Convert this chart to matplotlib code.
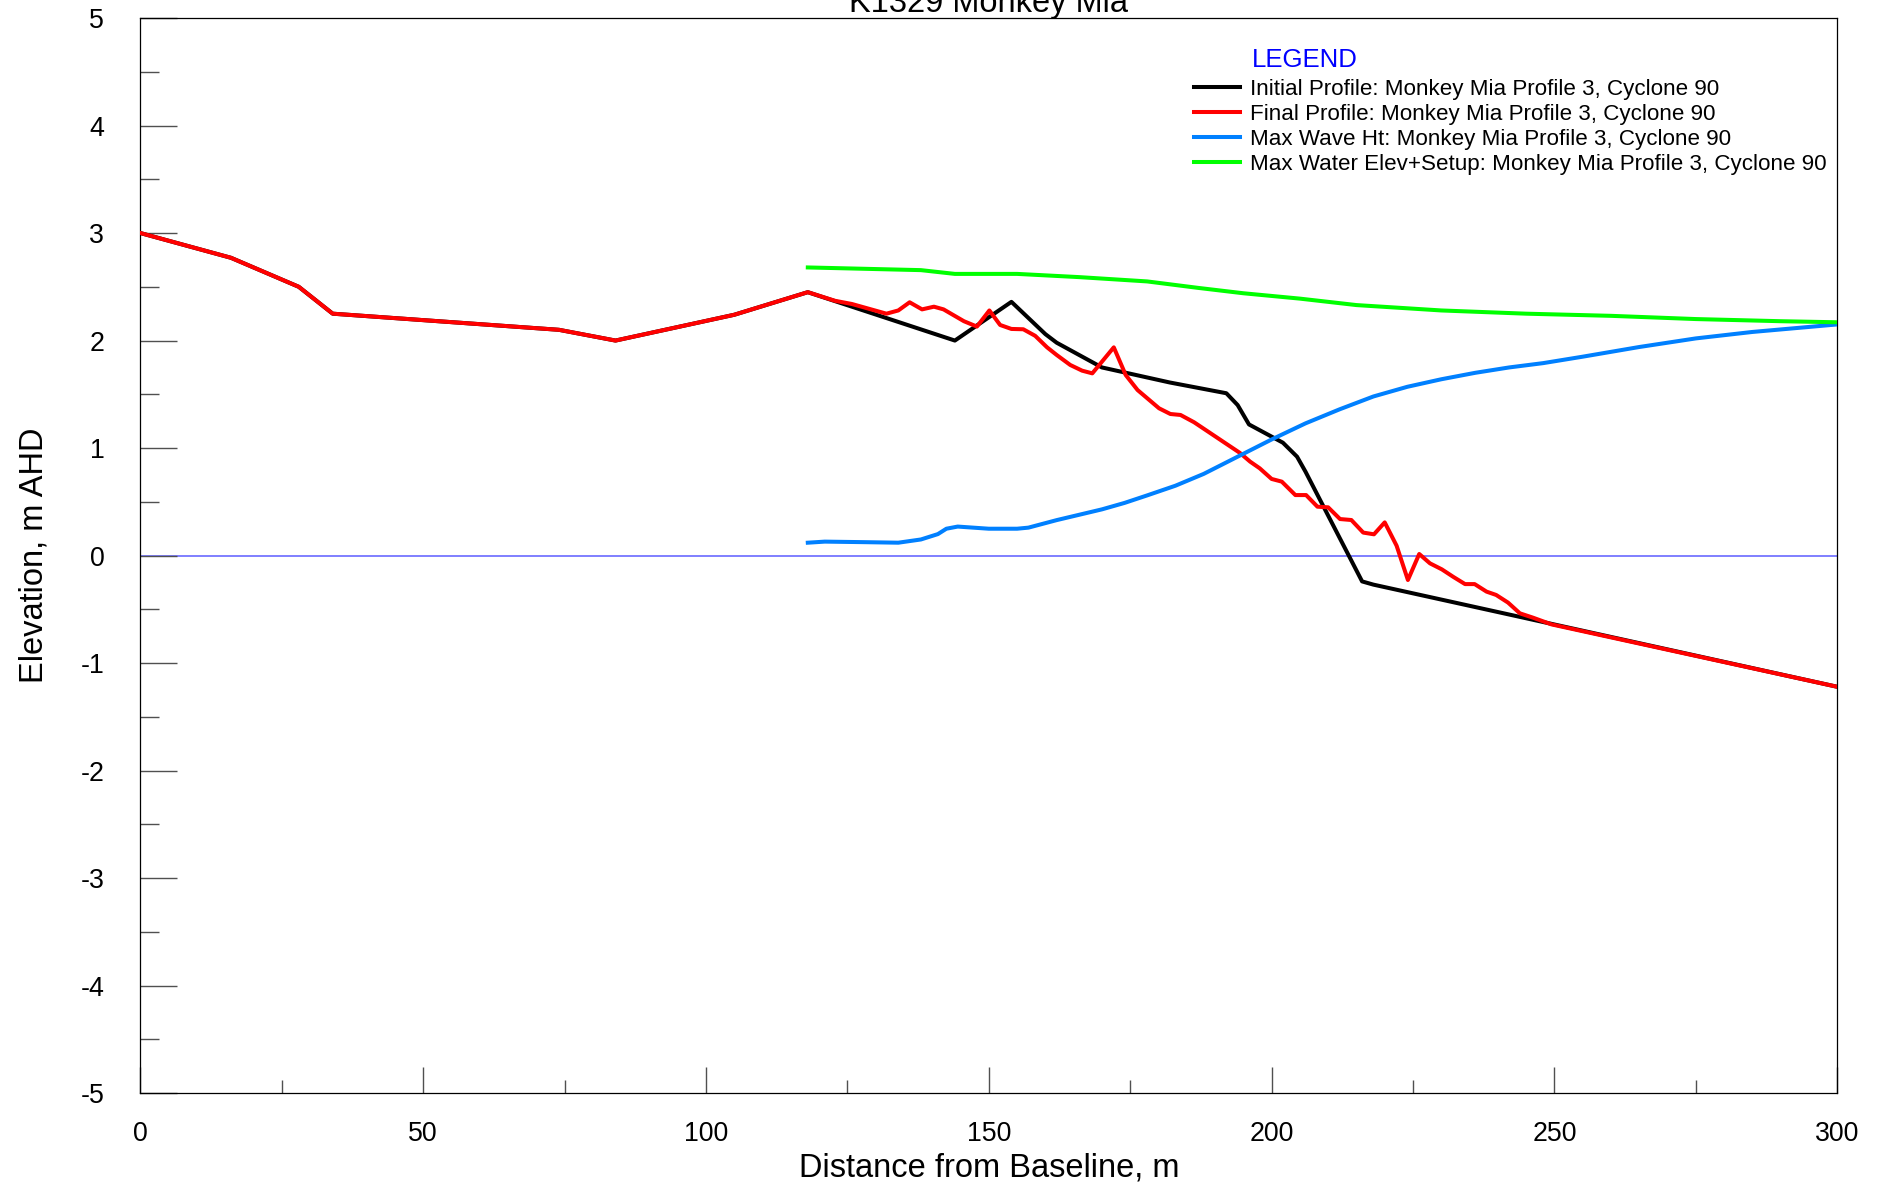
import matplotlib
matplotlib.use("Agg")
import matplotlib.pyplot as plt
from matplotlib.ticker import MultipleLocator

plt.rcParams['font.family'] = ['Liberation Sans', 'DejaVu Sans']
plt.rcParams['axes.unicode_minus'] = False

# Initial beach profile (distance from baseline, m ; elevation, m AHD)
initial_x = [0, 16, 28, 34, 74, 84, 105, 118, 144, 154, 160, 162, 170, 182,
             192, 194, 196, 202, 204.5, 206, 216, 218, 300]
initial_y = [3.0, 2.77, 2.5, 2.25, 2.1, 2.0, 2.24, 2.45, 2.0, 2.36, 2.06, 1.98,
             1.75, 1.61, 1.51, 1.40, 1.22, 1.05, 0.92, 0.78, -0.24, -0.27, -1.22]

# Final (post-storm) profile
final_x = [0, 16, 28, 34, 74, 84, 105, 118, 122.8, 125.8, 131.9, 134, 136,
           138.2, 140.3, 142, 145.6, 147.9, 150.1, 152, 154, 156.1, 158.2,
           160.3, 162, 164.4, 166.5, 168.3, 172.1, 174.2, 176.3, 180.1, 182.1,
           183.9, 186.3, 194.4, 196.2, 197.9, 200, 201.8, 204.2, 206.1, 208.1,
           210, 212.1, 214.1, 216.2, 218.1, 220, 222.1, 224.1, 226.1, 228,
           230.1, 232.1, 234.2, 235.9, 238, 239.7, 241.8, 243.9, 246.2, 249.5,
           300]
final_y = [3.0, 2.77, 2.5, 2.25, 2.1, 2.0, 2.24, 2.45, 2.37, 2.34, 2.25, 2.28,
           2.356, 2.29, 2.315, 2.29, 2.18, 2.13, 2.28, 2.145, 2.108, 2.105,
           2.044, 1.937, 1.866, 1.773, 1.72, 1.695, 1.937, 1.68, 1.54, 1.37,
           1.317, 1.308, 1.24, 0.955, 0.874, 0.812, 0.713, 0.688, 0.563, 0.563,
           0.455, 0.449, 0.34, 0.331, 0.214, 0.198, 0.309, 0.092, -0.227, 0.015,
           -0.072, -0.128, -0.197, -0.265, -0.265, -0.335, -0.366, -0.437,
           -0.537, -0.577, -0.64, -1.22]

# Maximum wave height along the profile
wave_x = [118, 121, 128, 134, 138, 141, 142.5, 144.5, 150, 155, 157, 162, 166,
          170, 174, 178, 183, 188, 194, 200, 206, 212, 218, 224, 230, 236, 242,
          248, 255, 265, 275, 285, 300]
wave_y = [0.12, 0.13, 0.125, 0.12, 0.15, 0.2, 0.25, 0.27, 0.25, 0.25, 0.26,
          0.33, 0.38, 0.43, 0.49, 0.56, 0.65, 0.76, 0.92, 1.08, 1.23, 1.36,
          1.48, 1.57, 1.64, 1.70, 1.75, 1.79, 1.85, 1.94, 2.02, 2.08, 2.15]

# Maximum water elevation including setup
water_x = [118, 130, 138, 144, 155, 166, 178, 187, 195, 205, 215, 230, 245,
           260, 275, 290, 300]
water_y = [2.68, 2.665, 2.655, 2.62, 2.62, 2.59, 2.55, 2.49, 2.44, 2.39, 2.33,
           2.28, 2.25, 2.23, 2.20, 2.18, 2.17]

datum_x = [0, 300]
datum_y = [0, 0]

labels = [
    "Initial Profile: Monkey Mia Profile 3, Cyclone 90",
    "Final Profile: Monkey Mia Profile 3, Cyclone 90",
    "Max Wave Ht: Monkey Mia Profile 3, Cyclone 90",
    "Max Water Elev+Setup: Monkey Mia Profile 3, Cyclone 90",
]

W, H = 1881, 1189
fig = plt.figure(figsize=(W / 100, H / 100), dpi=100)
left, right, top, bottom = 140.4, 1837.2, 18.0, 1093.2
ax = fig.add_axes([left / W, 1 - bottom / H, (right - left) / W, (bottom - top) / H])

lw = 2.9
ax.plot(datum_x, datum_y, color='#6a6aff', lw=1.2, zorder=1)
l1, = ax.plot(initial_x, initial_y, color='black', lw=lw, zorder=2)
l2, = ax.plot(final_x, final_y, color='#ff0000', lw=lw, zorder=3)
l3, = ax.plot(wave_x, wave_y, color='#0080ff', lw=lw, zorder=4)
l4, = ax.plot(water_x, water_y, color='#00ff00', lw=lw, zorder=5)

ax.set_xlim(0, 300)
ax.set_ylim(-5, 5)
ax.xaxis.set_major_locator(MultipleLocator(50))
ax.xaxis.set_minor_locator(MultipleLocator(25))
ax.yaxis.set_major_locator(MultipleLocator(1))
ax.yaxis.set_minor_locator(MultipleLocator(0.5))

tick_col = '#505050'
ax.tick_params(axis='y', which='major', direction='in', length=26.6, width=1,
               color=tick_col, pad=26, labelsize=19.3)
ax.tick_params(axis='y', which='minor', direction='in', length=13.7, width=1,
               color=tick_col)
ax.tick_params(axis='x', which='major', direction='in', length=18.7, width=1,
               color=tick_col, pad=20, labelsize=19.3)
ax.tick_params(axis='x', which='minor', direction='in', length=9.4, width=1,
               color=tick_col)
for s in ax.spines.values():
    s.set_linewidth(0.9)
    s.set_color('black')

ax.set_xlabel("Distance from Baseline, m", fontsize=23.5)
ax.set_ylabel("Elevation, m AHD", fontsize=23.5)
ax.xaxis.set_label_coords(0.5, -(1168 - bottom) / (bottom - top))
ax.yaxis.set_label_coords(-(left - 34) / (right - left), 0.5)
ax.yaxis.label.set_va('center')
ax.xaxis.label.set_va('center')

fig.text((left + right) / 2 / W, 1 - 11.7 / H, "K1329 Monkey Mia",
         ha='center', va='baseline', fontsize=23.5)

fig.text(1252 / W, 1 - 67 / H, "LEGEND", color='#0000ff', fontsize=18.5,
         ha='left', va='baseline')
leg = ax.legend([l1, l2, l3, l4], labels, loc='upper left',
                bbox_to_anchor=(1194 / W, 1 - 79 / H),
                bbox_transform=fig.transFigure, frameon=False, fontsize=16.1,
                handlelength=2.05, handletextpad=0.45, labelspacing=0.175,
                borderpad=0, borderaxespad=0)
for h in leg.get_lines():
    h.set_linewidth(2.9)

fig.savefig("out.png", dpi=100)
